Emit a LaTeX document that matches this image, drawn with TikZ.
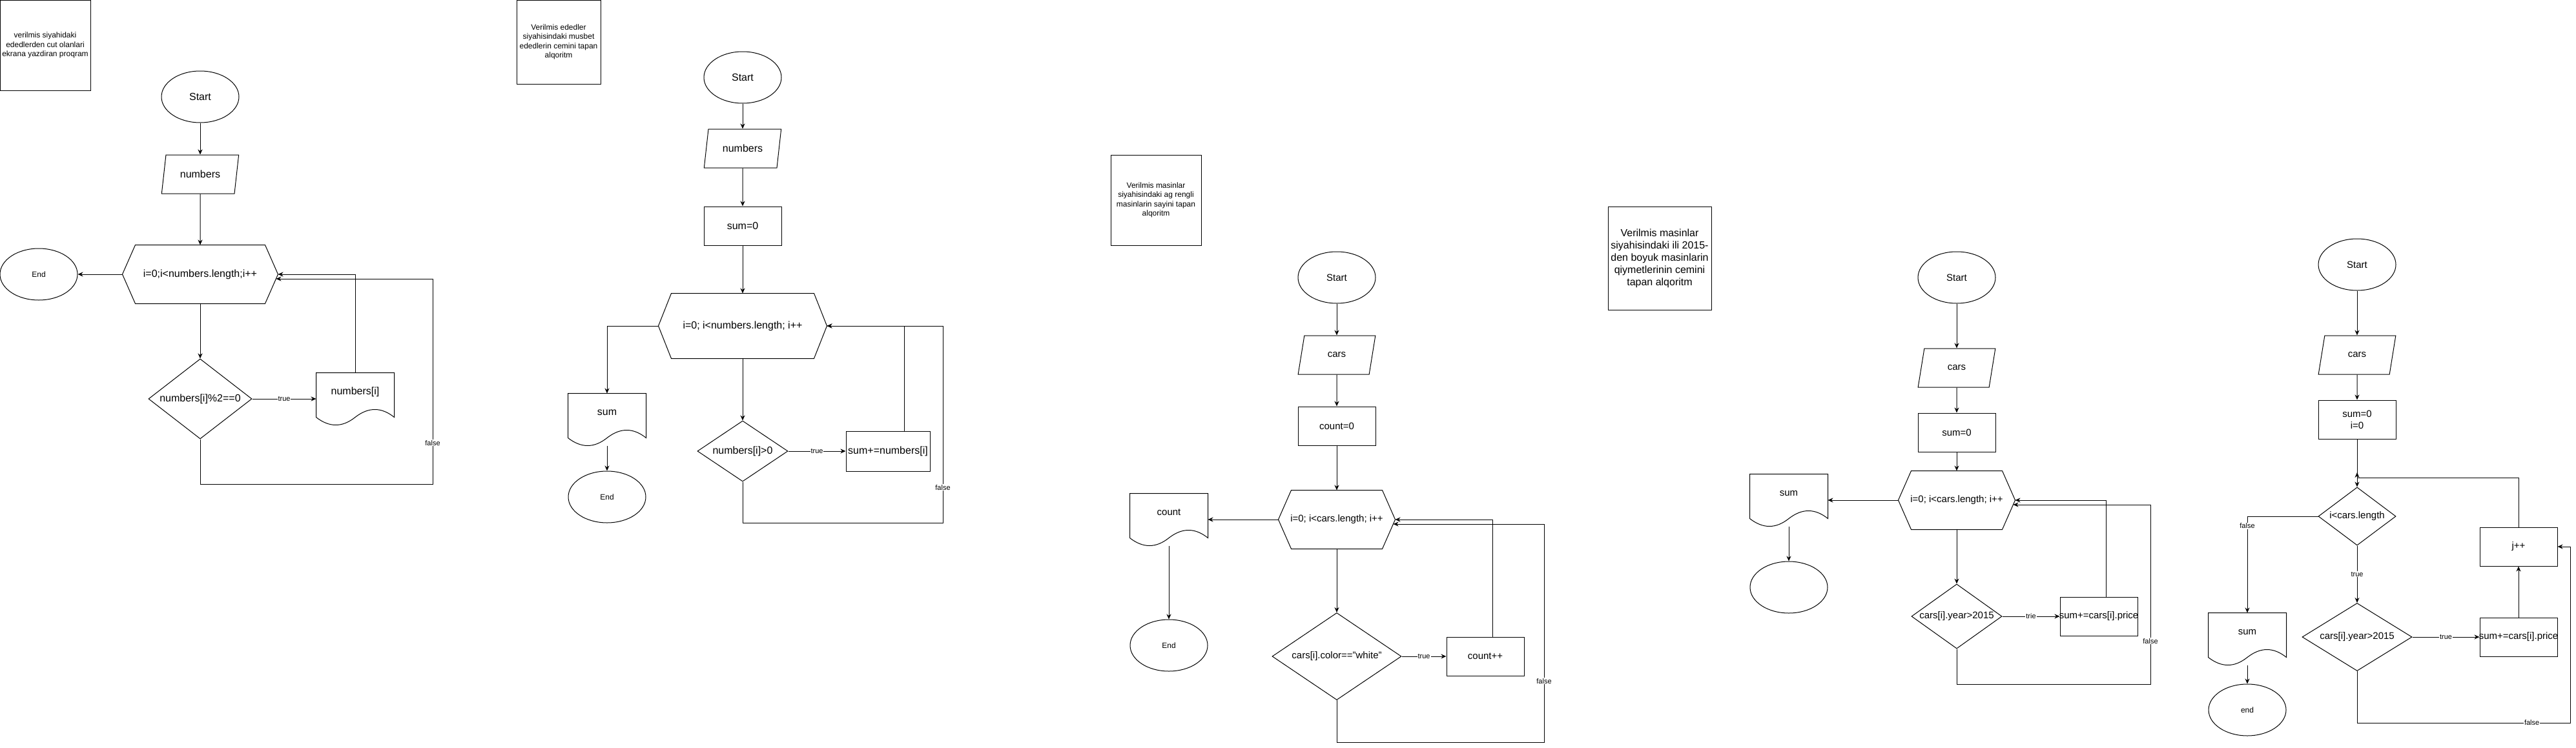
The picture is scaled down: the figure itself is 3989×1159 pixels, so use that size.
\documentclass[tikz,border=0pt]{standalone}
\usepackage{fontspec}
\setmainfont{Liberation Sans}
\usetikzlibrary{arrows.meta, shapes.geometric}

\newcommand{\txtbig}{\fontsize{16}{19}\selectfont}
\newcommand{\txtmid}{\fontsize{15}{18}\selectfont}
\newcommand{\txtsmall}{\fontsize{12}{14.5}\selectfont}
\newcommand{\txtlbl}{\fontsize{11}{13}\selectfont}

\tikzset{
  term/.style={ellipse, draw, minimum width=120pt, minimum height=80pt, inner sep=0pt},
  io/.style={trapezium, draw, trapezium left angle=71.57, trapezium right angle=108.43,
    trapezium stretches=true, minimum width=120pt, minimum height=60pt, inner sep=0pt},
  proc/.style={rectangle, draw, minimum width=120pt, minimum height=60pt, inner sep=0pt},
  tight/.style={execute at begin node={\hbox to 0pt\bgroup\hss}, execute at end node={\hss\egroup}},
  cond/.style={diamond, draw, inner sep=0pt, tight},
  note/.style={rectangle, draw, align=center, inner sep=0pt, font=\txtsmall},
  lbl/.style={font=\txtlbl, fill=white, inner sep=1pt},
  flow/.style={-{Stealth[length=8pt, width=7pt]}},
  loopbox/.style={minimum width=180pt, minimum height=90pt, inner sep=0pt,
    append after command={([xshift=20pt]\tikzlastnode.north west) -- ([xshift=-20pt]\tikzlastnode.north east)
      -- (\tikzlastnode.east) -- ([xshift=-20pt]\tikzlastnode.south east)
      -- ([xshift=20pt]\tikzlastnode.south west) -- (\tikzlastnode.west) -- cycle}},
  docbox/.style={minimum width=120pt, minimum height=80pt, inner ysep=0pt, text height=33pt, text depth=47pt,
    append after command={(\tikzlastnode.north west) -- (\tikzlastnode.north east)
      -- ([yshift=12pt]\tikzlastnode.south east)
      .. controls ([xshift=-20pt, yshift=28pt]\tikzlastnode.south east) and ([xshift=-40pt, yshift=28pt]\tikzlastnode.south east) .. ([yshift=12pt]\tikzlastnode.south)
      .. controls ([xshift=-20pt, yshift=-4pt]\tikzlastnode.south) and ([xshift=-40pt, yshift=-4pt]\tikzlastnode.south) .. ([yshift=12pt]\tikzlastnode.south west)
      -- cycle}}
}

\begin{document}
\begin{tikzpicture}[x=1pt, y=-1pt, line width=1pt, font=\txtbig]
    \useasboundingbox (0,0) rectangle (3989,1159);

    % cut ededler
    \node[note, minimum width=140pt, minimum height=140pt] (t1) at (70,70) {verilmis siyahidaki\\ededlerden cut olanlari\\ekrana yazdiran proqram};
    \node[term] (s1) at (310,150) {Start};
    \node[io] (in1) at (310,270) {numbers};
    \draw (310,425) node[loopbox, minimum width=240pt] (l1) {i=0;i<numbers.length;i++};
    \node[term, font=\txtsmall] (e1) at (60,425) {End};
    \node[cond, minimum width=160pt, minimum height=124pt] (c1) at (310,618) {numbers[i]\%2==0};
    \draw (550,618) node[docbox] (o1) {numbers[i]};

    \draw[flow] (s1) -- (in1);
    \draw[flow] (in1) -- (l1);
    \draw[flow] (l1) -- (e1);
    \draw[flow] (l1) -- (c1);
    \draw[flow] (c1) -- node[lbl] {true} (o1);
    \draw[flow] (o1) |- (l1.east);
    \draw[flow] (c1) |- (670,750) |- node[lbl, pos=0.1] {false} ([xshift=-3pt, yshift=-7pt]l1.east);

    % musbet ededlerin cemi
    \node[note, minimum width=130pt, minimum height=130pt] (t2) at (865,65) {Verilmis ededler\\siyahisindaki musbet\\ededlerin cemini tapan\\alqoritm};
    \node[term] (s2) at (1150,120) {Start};
    \node[io] (in2) at (1150,230) {numbers};
    \node[proc] (p2) at (1150,350) {sum=0};
    \draw (1150,505) node[loopbox, minimum width=260pt, minimum height=100pt] (l2) {i=0; i<numbers.length; i++};
    \draw (940,650) node[docbox] (o2) {sum};
    \node[term, font=\txtsmall] (e2) at (940,770) {End};
    \node[cond, minimum width=140pt, minimum height=94pt] (c2) at (1150,699) {numbers[i]>0};
    \node[proc, minimum width=130pt, minimum height=62pt] (a2) at (1375,699) {sum+=numbers[i]};

    \draw[flow] (s2) -- (in2);
    \draw[flow] (in2) -- (p2);
    \draw[flow] (p2) -- (l2);
    \draw[flow] (l2) -| (o2);
    \draw[flow] (o2) -- (e2);
    \draw[flow] (l2) -- (c2);
    \draw[flow] (c2) -- node[lbl] {true} (a2);
    \draw[flow] ([xshift=25pt]a2.north) |- (l2.east);
    \draw[flow] (c2) |- (1460,810) |- node[lbl, pos=0.09] {false} (l2.east);

    % ag masinlarin sayi
    \begin{scope}[every node/.append style={font=\txtmid}]
    \node[note, minimum width=140pt, minimum height=140pt] (t3) at (1790,310) {Verilmis masinlar\\siyahisindaki ag rengli\\masinlarin sayini tapan\\alqoritm};
    \node[term] (s3) at (2070,430) {Start};
    \node[io] (in3) at (2070,550) {cars};
    \node[proc] (p3) at (2070,660) {count=0};
    \draw (2070,805) node[loopbox] (l3) {i=0; i<cars.length; i++};
    \draw (1810,805) node[docbox] (o3) {count};
    \node[term, font=\txtsmall] (e3) at (1810,1000) {End};
    \node[cond, minimum width=200pt, minimum height=135pt] (c3) at (2070,1017) {cars[i].color=="white"};
    \node[proc] (a3) at (2300,1017) {count++};
    \end{scope}

    \draw[flow] (s3) -- (in3);
    \draw[flow] (in3) -- (p3);
    \draw[flow] (p3) -- (l3);
    \draw[flow] (l3) -- (o3);
    \draw[flow] (o3) -- (e3);
    \draw[flow] (l3) -- (c3);
    \draw[flow] (c3) -- node[lbl] {true} (a3);
    \draw[flow] ([xshift=11pt]a3.north) |- (l3.east);
    \draw[flow] (c3) |- (2391,1150) |- node[lbl, pos=0.14] {false} ([xshift=-3pt, yshift=-7pt]l3.east);

    % ili 2015-den boyuk masinlar
    \begin{scope}[every node/.append style={font=\txtmid}]
    \node[note, minimum width=160pt, minimum height=160pt, font=\txtbig] (t4) at (2570,400) {Verilmis masinlar\\siyahisindaki ili 2015-\\den boyuk masinlarin\\qiymetlerinin cemini\\tapan alqoritm};
    \node[term] (s4) at (3030,430) {Start};
    \node[io] (in4) at (3030,570) {cars};
    \node[proc] (p4) at (3030,670) {sum=0};
    \draw (3030,775) node[loopbox] (l4) {i=0; i<cars.length; i++};
    \draw (2770,775) node[docbox] (o4) {sum};
    \node[term] (e4) at (2770,910) {};
    \node[cond, minimum width=140pt, minimum height=100pt] (c4) at (3030,955) {cars[i].year>2015};
    \node[proc, tight] (a4) at (3250,955) {sum+=cars[i].price};
    \end{scope}

    \draw[flow] (s4) -- (in4);
    \draw[flow] (in4) -- (p4);
    \draw[flow] (p4) -- (l4);
    \draw[flow] (l4) -- (o4);
    \draw[flow] (o4) -- (e4);
    \draw[flow] (l4) -- (c4);
    \draw[flow] (c4) -- node[lbl] {trie} (a4);
    \draw[flow] ([xshift=11pt]a4.north) |- (l4.east);
    \draw[flow] (c4) |- (3330,1060) |- node[lbl, pos=0.12] {false} ([xshift=-3pt, yshift=-7pt]l4.east);

    % while ile
    \begin{scope}[every node/.append style={font=\txtmid}]
    \node[term] (s5) at (3650,410) {Start};
    \node[io] (in5) at (3650,550) {cars};
    \node[proc, align=center] (p5) at (3650,650) {sum=0\\i=0};
    \coordinate (m5) at (3650,740);
    \coordinate (m5t) at (3650,732);
    \node[cond, minimum width=120pt, minimum height=90pt] (c5) at (3650,800) {i<cars.length};
    \draw (3480,990) node[docbox] (o5) {sum};
    \node[term, font=\txtsmall] (e5) at (3480,1100) {end};
    \node[cond, minimum width=170pt, minimum height=105pt] (d5) at (3650,987) {cars[i].year>2015};
    \node[proc, tight] (a5) at (3900,987) {sum+=cars[i].price};
    \node[proc] (j5) at (3900,847) {j++};
    \end{scope}

    \draw[flow] (s5) -- (in5);
    \draw[flow] (in5) -- (p5);
    \draw[flow] (p5) -- (c5);
    \draw[flow] (j5) |- (m5) -- (m5t);
    \draw[flow] (c5) -| node[lbl, pos=0.55] {false} (o5);
    \draw[flow] (o5) -- (e5);
    \draw[flow] (c5) -- node[lbl] {true} (d5);
    \draw[flow] (d5) -- node[lbl] {true} (a5);
    \draw[flow] (a5) -- (j5);
    \draw[flow] (d5) |- node[lbl, pos=0.91] {false} (3980,1120) |- (j5.east);
\end{tikzpicture}
\end{document}
